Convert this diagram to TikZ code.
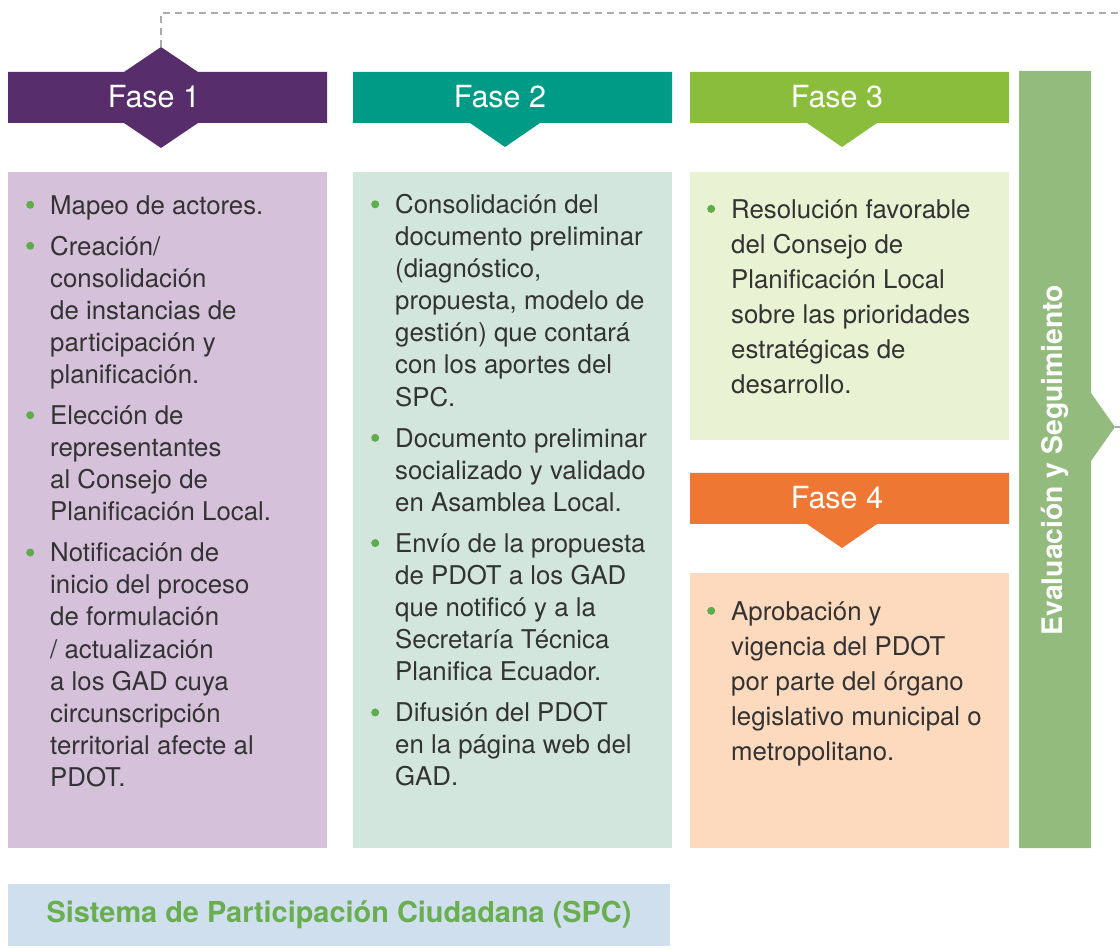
\documentclass[tikz,border=0pt]{standalone}
\usepackage{fontspec}
\setmainfont{TeX Gyre Heros}
\definecolor{cA}{HTML}{582D6C}
\definecolor{cAl}{HTML}{D6C1DB}
\definecolor{cB}{HTML}{009B86}
\definecolor{cBl}{HTML}{D2E6DD}
\definecolor{cC}{HTML}{8ABD3C}
\definecolor{cCl}{HTML}{E9F2D3}
\definecolor{cD}{HTML}{EE7733}
\definecolor{cDl}{HTML}{FDDABD}
\definecolor{cE}{HTML}{93BB7E}
\definecolor{cSPC}{HTML}{D0DFEE}
\definecolor{spctext}{HTML}{6AAE52}
\definecolor{bulg}{HTML}{5DAE4B}
\definecolor{txt}{HTML}{333333}
\definecolor{dashc}{HTML}{AAAAAA}
\newcommand{\bul}{\leavevmode\llap{\raisebox{5.2pt}{\tikz\fill[bulg] (0,0) circle[radius=4pt];}\hspace{16pt}}}
\begin{document}
\begin{tikzpicture}[x=1pt,y=-1pt,
  hdrtext/.style={text=white,font=\fontsize{30.5}{32}\selectfont,inner sep=0pt},
  bodyA/.style={anchor=north west,align=left,text=txt,inner sep=0pt,font=\fontsize{25.8}{32.1}\selectfont},
  bodyB/.style={anchor=north west,align=left,text=txt,inner sep=0pt,font=\fontsize{25.8}{35.1}\selectfont},
  dashline/.style={draw=dashc,line width=1.4pt,dash pattern=on 7pt off 5pt}]
\useasboundingbox (0,0) rectangle (1120,949);
% content boxes
\fill[cAl] (8,172) rectangle (327,848);
\fill[cBl] (353,172) rectangle (672,848);
\fill[cCl] (690,172) rectangle (1009,440);
\fill[cDl] (690,573) rectangle (1009,848);
\fill[cSPC] (8,884) rectangle (670,946);
% headers
\fill[cA] (8,72) -- (124,72) -- (161,47) -- (198,72) -- (327,72) -- (327,123) -- (198,123) -- (161,148) -- (124,123) -- (8,123) -- cycle;
\fill[cB] (353,72) -- (672,72) -- (672,123) -- (540,123) -- (505,147) -- (470,123) -- (353,123) -- cycle;
\fill[cC] (690,72) -- (1009,72) -- (1009,123) -- (877,123) -- (842,147) -- (807,123) -- (690,123) -- cycle;
\fill[cD] (690,473) -- (1009,473) -- (1009,524) -- (877,524) -- (842,548) -- (807,524) -- (690,524) -- cycle;
\fill[cE] (1019,71) -- (1091,71) -- (1091,393) -- (1115,427) -- (1091,461) -- (1091,848) -- (1019,848) -- cycle;
% connector
\coordinate (d1) at (161,47);
\coordinate (etip) at (1115,427);
\coordinate (c1) at (161,13);
\coordinate (c2) at (1120,13);
\coordinate (c3) at (1120,427);
\draw[dashline] (d1) -- (c1) -- (c2);
\draw[dashline] (etip) -- (c3);
% header texts
\node[hdrtext] (h1) at (154,97) {Fase 1};
\node[hdrtext] (h2) at (500,97) {Fase 2};
\node[hdrtext] (h3) at (837,97) {Fase 3};
\node[hdrtext] (h4) at (837,498) {Fase 4};
\node[text=white,font=\bfseries\fontsize{28.3}{30}\selectfont,rotate=90,inner sep=0pt] (ev) at (1055,460) {Evaluación y Seguimiento};
\node[text=spctext,font=\bfseries\fontsize{28.9}{32}\selectfont,inner sep=0pt] (spc) at (339,915) {Sistema de Participación Ciudadana (SPC)};
% bodies
\node[bodyA] (b1) at (50,195) {\bul Mapeo de actores.\\[8.9pt]
\bul Creación/\\ consolidación\\ de instancias de\\ participación y\\ planificación.\\[8.9pt]
\bul Elección de\\ representantes\\ al Consejo de\\ Planificación Local.\\[8.9pt]
\bul Notificación de\\ inicio del proceso\\ de formulación\\ / actualización\\ a los GAD cuya\\ circunscripción\\ territorial afecte al\\ PDOT.};
\node[bodyA] (b2) at (395,194) {\bul Consolidación del\\ documento preliminar\\ (diagnóstico,\\ propuesta, modelo de\\ gestión) que contará\\ con los aportes del\\ SPC.\\[8.9pt]
\bul Documento preliminar\\ socializado y validado\\ en Asamblea Local.\\[8.9pt]
\bul Envío de la propuesta\\ de PDOT a los GAD\\ que notificó y a la\\ Secretaría Técnica\\ Planifica Ecuador.\\[8.9pt]
\bul Difusión del PDOT\\ en la página web del\\ GAD.};
\node[bodyB] (b3) at (731,199) {\bul Resolución favorable\\ del Consejo de\\ Planificación Local\\ sobre las prioridades\\ estratégicas de\\ desarrollo.};
\node[bodyB] (b4) at (731,601) {\bul Aprobación y\\ vigencia del PDOT\\ por parte del órgano\\ legislativo municipal o\\ metropolitano.};
\end{tikzpicture}
\end{document}
